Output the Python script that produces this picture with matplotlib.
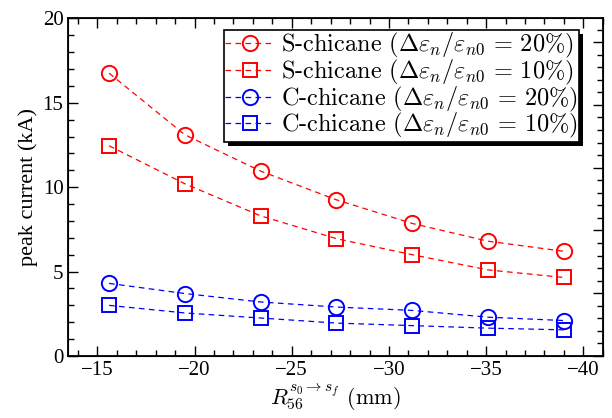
import numpy as np
import matplotlib
matplotlib.use("Agg")
import matplotlib.pyplot as plt
from matplotlib.ticker import MultipleLocator
from matplotlib.patches import Rectangle

plt.rcParams['font.family'] = 'Liberation Serif'
plt.rcParams['mathtext.fontset'] = 'cm'

# R56 (mm)
r56 = [-15.6, -19.5, -23.4, -27.3, -31.2, -35.1, -39.0]

# peak current (kA)
s_chicane_20 = [16.75, 13.1, 10.95, 9.25, 7.85, 6.8, 6.2]
s_chicane_10 = [12.45, 10.2, 8.3, 6.95, 6.0, 5.1, 4.65]
c_chicane_20 = [4.3, 3.7, 3.2, 2.9, 2.7, 2.3, 2.1]
c_chicane_10 = [3.0, 2.55, 2.25, 1.95, 1.8, 1.65, 1.55]

lbl = r'%s-chicane $(\Delta\varepsilon_n/\varepsilon_{n0}\,=\,%d\%%)$'

fig = plt.figure(figsize=(6.12, 4.18), dpi=100)
ax = fig.add_axes([0.1116, 0.1483, 0.8732, 0.8079])

series = [
    (s_chicane_20, 'red', 'o', lbl % ('S', 20)),
    (s_chicane_10, 'red', 's', lbl % ('S', 10)),
    (c_chicane_20, 'blue', 'o', lbl % ('C', 20)),
    (c_chicane_10, 'blue', 's', lbl % ('C', 10)),
]
for vals, col, mk, name in series:
    ax.plot(r56, vals, color=col, ls=(0, (4.5, 3.5)), lw=0.9, marker=mk,
            ms=11 if mk == 'o' else 10, mfc='none', mec=col, mew=1.4,
            label=name)

ax.set_xlim(-13.5, -41.0)
ax.set_ylim(0, 20)
ax.xaxis.set_major_locator(MultipleLocator(5))
ax.xaxis.set_minor_locator(MultipleLocator(1))
ax.yaxis.set_major_locator(MultipleLocator(5))
ax.yaxis.set_minor_locator(MultipleLocator(1))
ax.tick_params(which='both', direction='in', top=True, right=False,
               labelsize=15, width=1.0)
ax.tick_params(which='major', length=7)
ax.tick_params(which='minor', length=4)
for sp in ax.spines.values():
    sp.set_linewidth(1.3)

# unlabelled right-hand axis with its own scale
ax2 = ax.twinx()
ax2.set_ylim(0, 5.38)
ax2.yaxis.set_major_locator(MultipleLocator(1))
ax2.yaxis.set_minor_locator(MultipleLocator(0.2))
ax2.tick_params(which='both', direction='in', labelright=False, width=1.0)
ax2.tick_params(which='major', length=7)
ax2.tick_params(which='minor', length=4)

ax.set_ylabel('peak current (kA)', fontsize=16, labelpad=3)
ax.set_xlabel(r'$R_{56}^{s_0\to s_f}$ (mm)', fontsize=16, labelpad=1,
              family='cmr10')

leg = ax.legend(loc='upper right', bbox_to_anchor=(0.9557, 0.9653),
                borderaxespad=0, fancybox=False, framealpha=1,
                edgecolor='black', prop={'family': 'cmr10', 'size': 17.5},
                handlelength=2.0, handletextpad=0.3, labelspacing=-0.1,
                borderpad=0.05)
leg.get_frame().set_linewidth(1.2)
leg.set_zorder(6)

fig.canvas.draw()
bb = leg.get_window_extent().transformed(ax.transAxes.inverted())
dx = 4 / (0.8732 * 612)
dy = 4 / (0.8079 * 418)
ax.add_patch(Rectangle((bb.x0 + dx, bb.y0 - dy), bb.width, bb.height,
                       transform=ax.transAxes, facecolor='black',
                       edgecolor='none', zorder=5.5))

fig.savefig('out.png', dpi=100)
